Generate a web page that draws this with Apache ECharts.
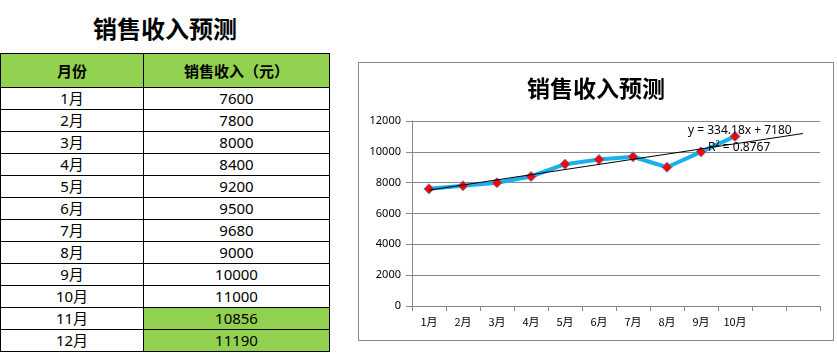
<!DOCTYPE html>
<html>
<head>
<meta charset="utf-8">
<script src="https://cdn.jsdelivr.net/npm/echarts@6/dist/echarts.min.js"></script>
<style>
  body { margin:0; background:#fff; width:837px; height:354px; overflow:hidden; position:relative;
         font-family:"Noto Sans","Noto Sans CJK SC",sans-serif; }
  #title { position:absolute; left:0; top:10px; width:330px; text-align:center;
           font:bold 24px "Noto Sans CJK SC",sans-serif; color:#000; }
  table { position:absolute; left:0; top:53px; border-collapse:collapse; }
  td, th { border:1px solid #000; padding:0; text-align:center; color:#000; font-size:15px; }
  th { height:33px; background:#92D050; font-family:"Noto Sans CJK SC",sans-serif; font-weight:bold; font-size:15px; }
  td { height:21px; line-height:21px; }
  td.c1 { width:142px; } td.c2 { width:185px; }
  td.fc { background:#92D050; }
  #chart { position:absolute; left:358px; top:62px; width:474px; height:277px; border:1px solid #888; }
</style>
</head>
<body>
<div id="title">销售收入预测</div>
<table id="tbl"></table>
<div id="chart"></div>
<script>
// 表格数据
var months = ['1月','2月','3月','4月','5月','6月','7月','8月','9月','10月','11月','12月'];
var sales = [7600, 7800, 8000, 8400, 9200, 9500, 9680, 9000, 10000, 11000, 10856, 11190];
var forecastFrom = 10; // 11月、12月为预测值（绿色）

// 图表数据
var chartLabels = ['1月','2月','3月','4月','5月','6月','7月','8月','9月','10月','',''];
var actual = [7600, 7800, 8000, 8400, 9200, 9500, 9680, 9000, 10000, 11000];
var trendSlope = 334.18;
var trendIntercept = 7180;
var trendR2 = 0.8767;
var yTicks = [0, 2000, 4000, 6000, 8000, 10000, 12000];

// 画表格
var html = '<tr><th>月份</th><th>销售收入（元）</th></tr>';
for (var i = 0; i < months.length; i++) {
  html += '<tr><td class="c1">' + months[i] + '</td><td class="c2' + (i >= forecastFrom ? ' fc' : '') + '">' + sales[i] + '</td></tr>';
}
document.getElementById('tbl').innerHTML = html;

// 趋势线：首尾两点
var trend = [
  [0, trendSlope * 1 + trendIntercept],
  [chartLabels.length - 1, trendSlope * chartLabels.length + trendIntercept]
];

var chart = echarts.init(document.getElementById('chart'));
chart.setOption({
  animation: false,
  title: {
    text: '销售收入预测', left: 'center', top: 9,
    textStyle: { fontFamily: 'Noto Sans CJK SC', fontSize: 23, fontWeight: 'bold', color: '#000' }
  },
  grid: { left: 53, right: 13, top: 58, bottom: 34 },
  xAxis: {
    type: 'category',
    data: chartLabels,
    boundaryGap: true,
    axisLine: { lineStyle: { color: '#888' } },
    axisTick: { show: true, length: 5, lineStyle: { color: '#888' } },
    axisLabel: { color: '#000', fontSize: 11, margin: 10, interval: 0, fontFamily: 'Noto Sans CJK SC' }
  },
  yAxis: {
    type: 'value',
    min: yTicks[0], max: yTicks[yTicks.length - 1], interval: 2000,
    axisLine: { show: true, lineStyle: { color: '#888' } },
    axisTick: { show: true, length: 6, inside: false, lineStyle: { color: '#888' } },
    axisLabel: { color: '#000', fontSize: 11, margin: 11, fontFamily: 'Noto Sans',
                 formatter: function (v) { return String(v); } },
    splitLine: { lineStyle: { color: '#888' } }
  },
  series: [
    {
      type: 'line',
      data: trend,
      symbol: 'none',
      lineStyle: { color: '#000', width: 1 },
      z: 3
    },
    {
      type: 'line',
      data: actual,
      symbol: 'diamond',
      symbolSize: 10,
      lineStyle: { color: '#1AB0EA', width: 4 },
      itemStyle: { color: '#FF0000', borderColor: '#5B7FC0', borderWidth: 1 },
      z: 2
    }
  ],
  graphic: [
    {
      type: 'text', left: 329, top: 62,
      style: { text: 'y = ' + trendSlope + 'x + ' + trendIntercept, fill: '#000', font: '12px "Noto Sans"' },
      z: 10
    },
    {
      type: 'text', left: 349, top: 79,
      style: { text: 'R² = ' + trendR2, fill: '#000', font: '12px "Noto Sans"' },
      z: 10
    }
  ]
});
</script>
</body>
</html>
